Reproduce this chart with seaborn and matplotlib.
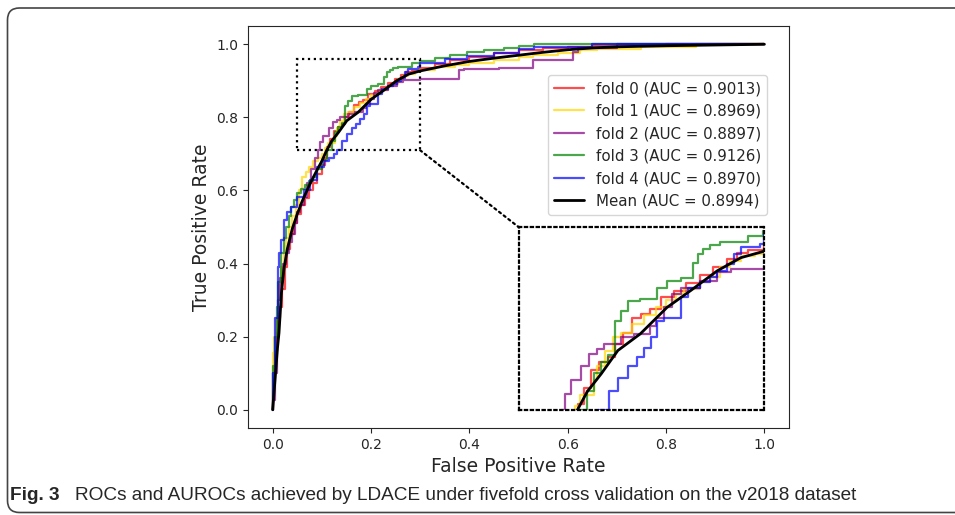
import matplotlib
matplotlib.use('Agg')
import matplotlib.pyplot as plt
import seaborn as sns
from matplotlib.patches import Rectangle, FancyBboxPatch, ConnectionPatch

# ROC points per fold
fpr0 = [0.0, 0.0, 0.004, 0.008, 0.012, 0.016, 0.02, 0.025, 0.03, 0.036, 0.043, 0.05, 0.058, 0.066, 0.075, 0.083, 0.091,
        0.1, 0.106, 0.11, 0.117, 0.124, 0.132, 0.141, 0.148, 0.156, 0.165, 0.175, 0.184, 0.195, 0.208, 0.22, 0.235,
        0.248, 0.262, 0.272, 0.283, 0.3, 0.33, 0.36, 0.4, 0.45, 0.5, 0.55, 0.6, 0.65, 0.72, 0.8, 0.9, 1.0]
tpr0 = [0.0, 0.04, 0.1, 0.16, 0.21, 0.25, 0.28, 0.33, 0.39, 0.44, 0.48, 0.51, 0.535, 0.56, 0.58, 0.6, 0.62,
        0.645, 0.67, 0.69, 0.718, 0.74, 0.764, 0.775, 0.782, 0.8, 0.815, 0.835, 0.841, 0.848, 0.864, 0.872, 0.884,
        0.895, 0.905, 0.916, 0.925, 0.928, 0.936, 0.945, 0.956, 0.965, 0.975, 0.984, 0.99, 0.993, 0.996, 0.998, 1.0, 1.0]

fpr1 = [0.0, 0.0, 0.003, 0.006, 0.01, 0.014, 0.018, 0.023, 0.028, 0.034, 0.04, 0.047, 0.054, 0.06, 0.067, 0.075,
        0.083, 0.092, 0.1, 0.107, 0.113, 0.127, 0.13, 0.138, 0.146, 0.154, 0.165, 0.178, 0.19, 0.2, 0.21, 0.218,
        0.235, 0.245, 0.255, 0.265, 0.276, 0.29, 0.3, 0.33, 0.37, 0.4, 0.45, 0.5, 0.53, 0.58, 0.626, 0.66, 0.75,
        0.86, 0.92, 1.0]
tpr1 = [0.0, 0.06, 0.155, 0.2, 0.25, 0.3, 0.34, 0.39, 0.43, 0.47, 0.5, 0.53, 0.56, 0.6, 0.637, 0.65,
        0.665, 0.68, 0.69, 0.7, 0.715, 0.73, 0.75, 0.77, 0.79, 0.809, 0.815, 0.827, 0.84, 0.85, 0.86, 0.868,
        0.875, 0.885, 0.891, 0.905, 0.914, 0.92, 0.923, 0.93, 0.938, 0.943, 0.95, 0.958, 0.965, 0.97, 0.975, 0.985,
        0.988, 0.993, 1.0, 1.0]

fpr2 = [0.0, 0.0, 0.004, 0.008, 0.012, 0.016, 0.022, 0.028, 0.034, 0.04, 0.045, 0.05, 0.056, 0.063, 0.07, 0.078,
        0.086, 0.093, 0.097, 0.103, 0.114, 0.122, 0.13, 0.137, 0.154, 0.167, 0.184, 0.19, 0.198, 0.206, 0.215,
        0.235, 0.252, 0.266, 0.276, 0.3, 0.38, 0.39, 0.46, 0.53, 0.54, 0.61, 0.62, 0.7, 0.8, 1.0]
tpr2 = [0.0, 0.0, 0.027, 0.1, 0.2, 0.3, 0.36, 0.4, 0.43, 0.46, 0.48, 0.51, 0.54, 0.56, 0.583, 0.62,
        0.66, 0.69, 0.71, 0.732, 0.75, 0.77, 0.786, 0.793, 0.8, 0.809, 0.814, 0.825, 0.836, 0.85, 0.868,
        0.876, 0.886, 0.898, 0.902, 0.902, 0.906, 0.929, 0.932, 0.935, 0.956, 0.958, 0.979, 0.99, 1.0, 1.0]

fpr3 = [0.0, 0.0, 0.004, 0.008, 0.012, 0.017, 0.023, 0.028, 0.033, 0.038, 0.043, 0.05, 0.057, 0.066, 0.075,
        0.083, 0.091, 0.1, 0.111, 0.12, 0.127, 0.134, 0.141, 0.148, 0.154, 0.161, 0.174, 0.191, 0.201, 0.215,
        0.227, 0.232, 0.238, 0.245, 0.255, 0.283, 0.299, 0.33, 0.36, 0.396, 0.43, 0.47, 0.5, 0.531, 0.6, 1.0]
tpr3 = [0.0, 0.05, 0.12, 0.2, 0.28, 0.35, 0.428, 0.47, 0.5, 0.53, 0.555, 0.575, 0.592, 0.605, 0.615,
        0.625, 0.638, 0.66, 0.683, 0.71, 0.735, 0.76, 0.775, 0.785, 0.832, 0.845, 0.859, 0.861, 0.877, 0.886,
        0.89, 0.911, 0.923, 0.93, 0.936, 0.939, 0.948, 0.955, 0.962, 0.97, 0.978, 0.985, 0.99, 0.995, 1.0, 1.0]

fpr4 = [0.0, 0.0, 0.005, 0.01, 0.012, 0.013, 0.018, 0.023, 0.03, 0.037, 0.05, 0.064, 0.077, 0.091, 0.104,
        0.115, 0.124, 0.131, 0.142, 0.151, 0.161, 0.17, 0.178, 0.185, 0.191, 0.198, 0.215, 0.222, 0.235, 0.245,
        0.252, 0.262, 0.269, 0.276, 0.296, 0.3, 0.35, 0.396, 0.45, 0.5, 0.531, 0.65, 0.81, 1.0]
tpr4 = [0.0, 0.04, 0.1, 0.25, 0.33, 0.39, 0.43, 0.464, 0.519, 0.542, 0.555, 0.583, 0.601, 0.628, 0.665,
        0.68, 0.69, 0.7, 0.71, 0.736, 0.754, 0.77, 0.782, 0.795, 0.809, 0.832, 0.836, 0.864, 0.877, 0.885,
        0.891, 0.9, 0.909, 0.923, 0.932, 0.937, 0.95, 0.961, 0.968, 0.975, 0.988, 0.993, 1.0, 1.0]

mean_fpr = [0.0, 0.002, 0.006, 0.01, 0.013, 0.018, 0.023, 0.03, 0.04, 0.05, 0.06, 0.075, 0.09, 0.1, 0.11, 0.12,
            0.134, 0.151, 0.174, 0.201, 0.225, 0.252, 0.276, 0.3, 0.35, 0.4, 0.45, 0.5, 0.55, 0.6, 0.65, 0.7,
            0.8, 0.9, 1.0]
mean_tpr = [0.0, 0.03, 0.1, 0.17, 0.21, 0.32, 0.385, 0.44, 0.495, 0.535, 0.57, 0.615, 0.655, 0.68, 0.71, 0.735,
            0.759, 0.791, 0.814, 0.85, 0.873, 0.9, 0.918, 0.927, 0.941, 0.953, 0.962, 0.97, 0.978, 0.985, 0.99, 0.993,
            0.996, 0.998, 1.0]

fold_aucs = [0.9013, 0.8969, 0.8897, 0.9126, 0.8970]
mean_auc = 0.8994
fold_colors = ['red', 'gold', 'purple', 'green', 'blue']
folds = [(fpr0, tpr0), (fpr1, tpr1), (fpr2, tpr2), (fpr3, tpr3), (fpr4, tpr4)]

# zoomed window shown in the inset
zoom_x = (0.05, 0.3)
zoom_y = (0.71, 0.96)

sns.set_style('ticks')
plt.rcParams['font.family'] = ['DejaVu Sans']
plt.rcParams['xtick.major.size'] = 3.5
plt.rcParams['ytick.major.size'] = 3.5

fig = plt.figure(figsize=(9.55, 5.15), dpi=100)
ax = fig.add_axes([248 / 955, 1 - 428 / 515, 541 / 955, 402 / 515])


def draw_curves(a, with_labels):
    for i, (f, t) in enumerate(folds):
        sns.lineplot(x=f, y=t, ax=a, color=fold_colors[i], alpha=0.7, lw=1.6,
                     drawstyle='steps-pre', estimator=None, sort=False,
                     label=f'fold {i} (AUC = {fold_aucs[i]:.4f})' if with_labels else None,
                     legend=False)
    sns.lineplot(x=mean_fpr, y=mean_tpr, ax=a, color='black', lw=2, estimator=None, sort=False,
                 label=f'Mean (AUC = {mean_auc:.4f})' if with_labels else None, legend=False)


draw_curves(ax, True)
ax.set_xlim(-0.05, 1.05)
ax.set_ylim(-0.05, 1.05)
ax.set_xticks([0.0, 0.2, 0.4, 0.6, 0.8, 1.0])
ax.set_yticks([0.0, 0.2, 0.4, 0.6, 0.8, 1.0])
ax.tick_params(labelsize=10)
ax.set_xlabel('False Positive Rate', fontsize=13.5)
ax.set_ylabel('True Positive Rate', fontsize=13.5)
ax.legend(loc='upper right', bbox_to_anchor=(0.959, 0.878), borderaxespad=0, fontsize=10.8)

# inset with zoomed view
axins = ax.inset_axes([0.5, 0.0, 0.5, 0.5], transform=ax.transData)
draw_curves(axins, False)
axins.set_xlim(*zoom_x)
axins.set_ylim(*zoom_y)
axins.set_xticks([])
axins.set_yticks([])
axins.set_xlabel('')
axins.set_ylabel('')
for sp in axins.spines.values():
    sp.set_linestyle(':')
    sp.set_linewidth(1.6)
    sp.set_color('black')

ax.add_patch(Rectangle((zoom_x[0], zoom_y[0]), zoom_x[1] - zoom_x[0], zoom_y[1] - zoom_y[0],
                       fill=False, ls=':', lw=1.6, ec='black', zorder=5))
con = ConnectionPatch(xyA=(zoom_x[1], zoom_y[0]), coordsA=ax.transData,
                      xyB=(0, 1), coordsB=axins.transAxes, ls=':', lw=1.6, color='black')
ax.add_artist(con)

# page frame and caption
frame = FancyBboxPatch((0.075, 0.025), 10.0, 5.045, boxstyle='round,pad=0,rounding_size=0.12',
                       transform=fig.dpi_scale_trans, fill=False, ec='#444444', lw=1.2)
fig.patches.append(frame)

fig.text(10 / 955, 1 - 495 / 515, 'Fig. 3', fontsize=13.7, fontweight='bold',
         family=['Liberation Sans', 'DejaVu Sans'], va='center')
fig.text(75 / 955, 1 - 495 / 515,
         'ROCs and AUROCs achieved by LDACE under fivefold cross validation on the v2018 dataset',
         fontsize=13.7, family=['Liberation Sans', 'DejaVu Sans'], va='center')

fig.savefig('out.png', dpi=100)
